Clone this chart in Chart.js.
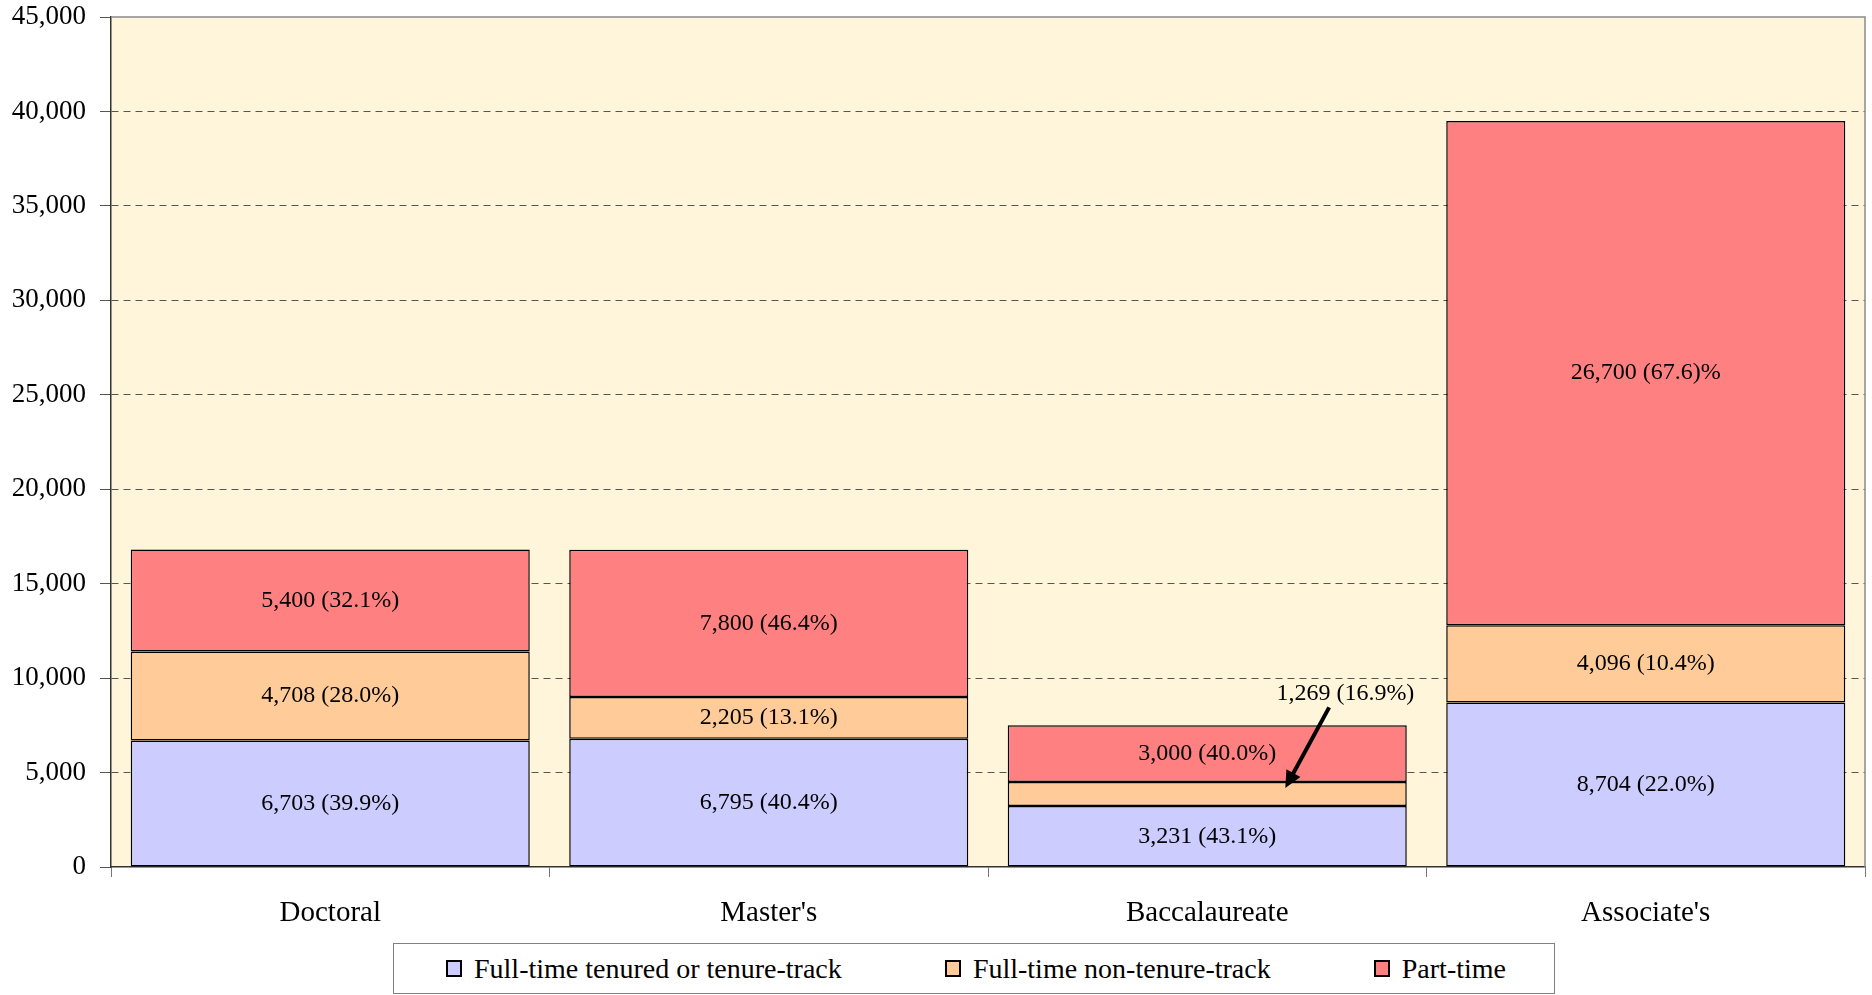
<!DOCTYPE html>
<html lang="en">
<head>
  <meta charset="UTF-8">
  <title>Faculty by Institution Type</title>
  <script src="https://cdn.jsdelivr.net/npm/chart.js"></script>
  <style>
    body {
      margin: 0;
      background: #fff;
      font-family: 'Liberation Serif', 'Times New Roman', serif;
    }
    #wrap {
      position: relative;
      width: 1872px;
      height: 943px;
    }
    #legend {
      position: absolute;
      left: 393px;
      top: 943px;
      width: 1162px;
      height: 51px;
      box-sizing: border-box;
      border: 1px solid #808080;
      display: flex;
      align-items: center;
      justify-content: space-between;
      padding: 0 48px 0 52px;
      font-size: 28px;
      color: #000;
    }
    .item { display: flex; align-items: center; }
    .swatch {
      width: 16px;
      height: 17px;
      box-sizing: border-box;
      border: 2px solid #000;
      margin-right: 12px;
    }
  </style>
</head>
<body>
  <div id="wrap"><canvas id="facultyChart"></canvas></div>
  <div id="legend"></div>

  <script>
    const categories = ['Doctoral', "Master's", 'Baccalaureate', "Associate's"];
    const tenured = [6703, 6795, 3231, 8704];
    const nonTenure = [4708, 2205, 1269, 4096];
    const partTime = [5400, 7800, 3000, 26700];

    const tenuredLabels = ['6,703 (39.9%)', '6,795 (40.4%)', '3,231 (43.1%)', '8,704 (22.0%)'];
    const nonTenureLabels = ['4,708 (28.0%)', '2,205 (13.1%)', '', '4,096 (10.4%)'];
    const partTimeLabels = ['5,400 (32.1%)', '7,800 (46.4%)', '3,000 (40.0%)', '26,700 (67.6)%'];

    // label for the thin Baccalaureate segment, placed with an arrow
    const calloutText = '1,269 (16.9%)';
    const calloutIndex = 2;

    const yMax = 45000;
    const yStep = 5000;

    const valueLabels = [tenuredLabels, nonTenureLabels, partTimeLabels];
    const serif = 'Liberation Serif';

    Chart.defaults.font.family = serif;
    Chart.defaults.color = '#000';

    const plotFrame = {
      id: 'plotFrame',
      beforeDraw(chart) {
        const { ctx, chartArea: a } = chart;
        ctx.save();
        ctx.fillStyle = '#fff5da';
        ctx.fillRect(a.left, a.top, a.width, a.height);
        ctx.restore();
      },
      beforeDatasetsDraw(chart) {
        const { ctx, chartArea: a } = chart;
        ctx.save();
        ctx.strokeStyle = '#8a8a8a';
        ctx.lineWidth = 1.5;
        ctx.beginPath();
        ctx.moveTo(a.left, a.top);
        ctx.lineTo(a.right, a.top);
        ctx.lineTo(a.right, a.bottom);
        ctx.stroke();
        ctx.restore();
      }
    };

    const barLabels = {
      id: 'barLabels',
      afterDatasetsDraw(chart) {
        const ctx = chart.ctx;
        ctx.save();
        ctx.font = '24px "' + serif + '"';
        ctx.fillStyle = '#000';
        ctx.textAlign = 'center';
        ctx.textBaseline = 'middle';
        chart.data.datasets.forEach((ds, di) => {
          chart.getDatasetMeta(di).data.forEach((bar, i) => {
            const t = valueLabels[di][i];
            if (t) ctx.fillText(t, bar.x, (bar.y + bar.base) / 2);
          });
        });

        // callout for the small segment
        const xs = chart.scales.x, ys = chart.scales.y;
        const cw = xs.getPixelForValue(1) - xs.getPixelForValue(0);
        const cx = xs.getPixelForValue(calloutIndex);
        const segTop = tenured[calloutIndex] + nonTenure[calloutIndex];
        ctx.fillText(calloutText, cx + cw * 0.315, ys.getPixelForValue(segTop + partTime[calloutIndex] + 1650));

        const x1 = cx + cw * 0.278, y1 = ys.getPixelForValue(segTop + partTime[calloutIndex] + 950);
        const x2 = cx + cw * 0.178, y2 = ys.getPixelForValue(tenured[calloutIndex] + nonTenure[calloutIndex] * 0.75);
        const ang = Math.atan2(y2 - y1, x2 - x1);
        const head = 17, half = 8;
        ctx.strokeStyle = '#000';
        ctx.lineWidth = 4;
        ctx.beginPath();
        ctx.moveTo(x1, y1);
        ctx.lineTo(x2 - Math.cos(ang) * head * 0.8, y2 - Math.sin(ang) * head * 0.8);
        ctx.stroke();
        ctx.beginPath();
        ctx.moveTo(x2, y2);
        ctx.lineTo(x2 - Math.cos(ang) * head - Math.sin(ang) * half, y2 - Math.sin(ang) * head + Math.cos(ang) * half);
        ctx.lineTo(x2 - Math.cos(ang) * head + Math.sin(ang) * half, y2 - Math.sin(ang) * head - Math.cos(ang) * half);
        ctx.closePath();
        ctx.fillStyle = '#000';
        ctx.fill();
        ctx.restore();
      }
    };

    const barStyle = {
      borderColor: '#000',
      borderWidth: 1.5,
      borderSkipped: false,
      barPercentage: 0.91,
      categoryPercentage: 1.0
    };

    const chart = new Chart(document.getElementById('facultyChart'), {
      type: 'bar',
      data: {
        labels: categories,
        datasets: [
          { label: 'Full-time tenured or tenure-track', data: tenured, backgroundColor: '#ccccff', ...barStyle },
          { label: 'Full-time non-tenure-track', data: nonTenure, backgroundColor: '#ffcc99', ...barStyle },
          { label: 'Part-time', data: partTime, backgroundColor: '#ff8080', ...barStyle }
        ]
      },
      options: {
        responsive: true,
        maintainAspectRatio: false,
        animation: false,
        layout: { padding: { top: 17, right: 7, left: 0, bottom: 0 } },
        plugins: {
          legend: { display: false },
          tooltip: { enabled: false }
        },
        scales: {
          x: {
            stacked: true,
            afterFit(s) { s.height = 76; },
            grid: {
              offset: true,
              drawOnChartArea: false,
              drawTicks: true,
              tickLength: 10,
              color: '#777',
              tickColor: '#777'
            },
            border: { color: '#333', width: 1.5 },
            ticks: { font: { size: 29 }, padding: 19, color: '#000' }
          },
          y: {
            stacked: true,
            min: 0,
            max: yMax,
            afterFit(s) {
              s.width = 111;
              s.paddingTop = 0;
              s.paddingBottom = 0;
            },
            grid: {
              color: c => (c.tick && (c.tick.value === 0 || c.tick.value === yMax)) ? 'rgba(0,0,0,0)' : '#555',
              tickColor: '#555',
              tickLength: 11,
              lineWidth: 1
            },
            border: { color: '#333', width: 1.5, dash: [7, 5] },
            ticks: {
              stepSize: yStep,
              font: { size: 27 },
              padding: 14,
              color: '#000',
              callback: v => v.toLocaleString('en-US')
            }
          }
        }
      },
      plugins: [plotFrame, barLabels]
    });

    // HTML legend built from the datasets
    const legend = document.getElementById('legend');
    chart.data.datasets.forEach(ds => {
      const item = document.createElement('div');
      item.className = 'item';
      const sw = document.createElement('span');
      sw.className = 'swatch';
      sw.style.background = ds.backgroundColor;
      const txt = document.createElement('span');
      txt.textContent = ds.label;
      item.appendChild(sw);
      item.appendChild(txt);
      legend.appendChild(item);
    });
  </script>
</body>
</html>
